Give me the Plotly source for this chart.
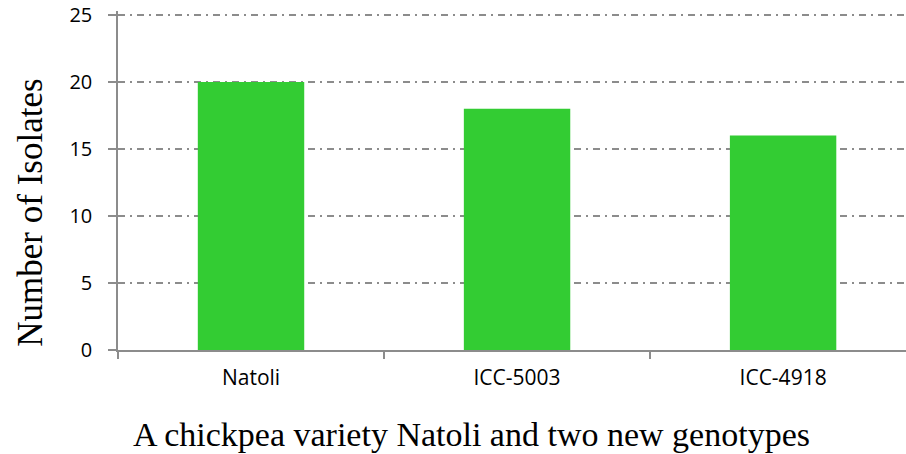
import plotly.graph_objects as go

# Isolate counts per chickpea genotype
genotypes = ["Natoli", "ICC-5003", "ICC-4918"]
isolates = [20, 18, 16]
y_ticks = [0, 5, 10, 15, 20, 25]

axis_grey = "#8c8c8c"
bar_green = "#33cc33"

fig = go.Figure(
    go.Bar(
        x=genotypes,
        y=isolates,
        width=0.4,
        marker=dict(color=bar_green, line=dict(width=0)),
    )
)

fig.update_layout(
    width=906,
    height=454,
    margin=dict(l=118, r=0, t=11, b=104),
    paper_bgcolor="white",
    plot_bgcolor="white",
    showlegend=False,
    xaxis=dict(
        type="category",
        range=[-0.5, 2.462],
        tickson="boundaries",
        ticks="outside",
        ticklen=7,
        tickcolor=axis_grey,
        tickwidth=1.5,
        showline=True,
        linecolor=axis_grey,
        linewidth=1.5,
        showgrid=False,
        ticklabelstandoff=8,
        tickfont=dict(family="Open Sans", size=21, color="#000000"),
    ),
    yaxis=dict(
        # a little headroom above 25 so the top gridline is still drawn
        range=[0, 25.3],
        tickvals=y_ticks,
        ticks="outside",
        ticklen=8,
        tickcolor=axis_grey,
        tickwidth=1.5,
        showline=True,
        linecolor=axis_grey,
        linewidth=1.5,
        showgrid=True,
        gridcolor=axis_grey,
        gridwidth=1.5,
        griddash="7px,5px,2px,5px",
        zeroline=False,
        ticklabelstandoff=12,
        tickfont=dict(family="Open Sans", size=20, color="#000000"),
    ),
    annotations=[
        dict(
            text="Number of Isolates",
            xref="paper",
            yref="paper",
            x=0,
            y=0.405,
            xanchor="center",
            yanchor="middle",
            xshift=-87,
            textangle=-90,
            showarrow=False,
            font=dict(family="Liberation Serif", size=35, color="#000000"),
        ),
        dict(
            text="A chickpea variety Natoli and two new genotypes",
            xref="paper",
            yref="paper",
            x=0.449,
            y=0,
            xanchor="center",
            yanchor="middle",
            yshift=-84,
            showarrow=False,
            font=dict(family="Liberation Serif", size=34, color="#000000"),
        ),
    ],
)

fig.write_html("out.html")
